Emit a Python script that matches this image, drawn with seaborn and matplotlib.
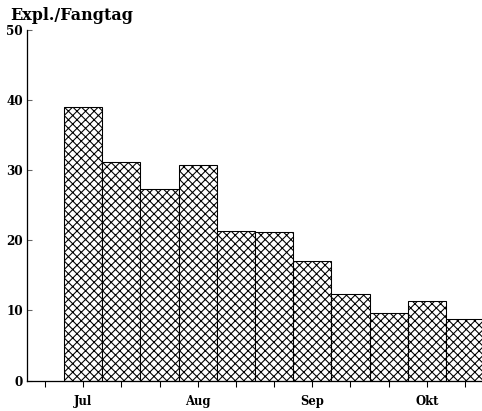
import matplotlib
matplotlib.use("Agg")
import matplotlib.pyplot as plt
import seaborn as sns
import pandas as pd

# Catch per fishing day, in ~10-day periods from July to October
periods = ["1", "2", "3", "4", "5", "6", "7", "8", "9", "10", "11"]
catch_per_day = [39.0, 31.1, 27.3, 30.7, 21.3, 21.2, 17.1, 12.3, 9.7, 11.4, 8.8]
month_labels = {0: "Jul", 3: "Aug", 6: "Sep", 9: "Okt"}
y_ticks = [0, 10, 20, 30, 40, 50]

sns.set_style("ticks")
plt.rcParams["font.family"] = ["DejaVu Serif"]
plt.rcParams["hatch.linewidth"] = 1.0
plt.rcParams["text.color"] = "black"
plt.rcParams["xtick.color"] = "black"
plt.rcParams["ytick.color"] = "black"

DPI = 77
fig = plt.figure(figsize=(482 / DPI, 411 / DPI), dpi=DPI)
ax = fig.add_axes([27 / 482, 30.5 / 411, 1 - 27 / 482, 350.5 / 411])

df = pd.DataFrame({"period": periods, "value": catch_per_day})
sns.barplot(data=df, x="period", y="value", ax=ax, width=1.0,
            color="white", edgecolor="black", linewidth=1.0, saturation=1)
for bar in ax.patches:
    bar.set_hatch("xxx")
    bar.set_facecolor("white")
    bar.set_edgecolor("black")

ax.set_xlim(-1.47, 10.445)
ax.set_ylim(0, 50)

xt = list(range(-1, 11))
ax.set_xticks(xt)
ax.set_xticklabels([month_labels.get(i, "") for i in xt],
                   fontsize=12, fontweight="bold", fontstretch="condensed")
ax.tick_params(axis="x", direction="out", length=6, width=1, pad=8,
               color="black", labelcolor="black")

ax.set_yticks(y_ticks)
ax.set_yticklabels([str(v) for v in y_ticks], fontsize=12.5,
                   fontweight="bold", fontstretch="condensed")
ax.tick_params(axis="y", direction="in", length=5, width=1, pad=4,
               color="#666666", labelcolor="black")

ax.set_xlabel("")
ax.set_ylabel("")
for s in ["top", "right"]:
    ax.spines[s].set_visible(False)
for s in ["left", "bottom"]:
    ax.spines[s].set_linewidth(1.2)
    ax.spines[s].set_color("black")

fig.text(10 / 482, 1 - 16 / 411, "Expl./Fangtag", fontsize=15,
         fontweight="bold", ha="left", va="center", color="black")

fig.savefig("out.png", dpi=DPI)
